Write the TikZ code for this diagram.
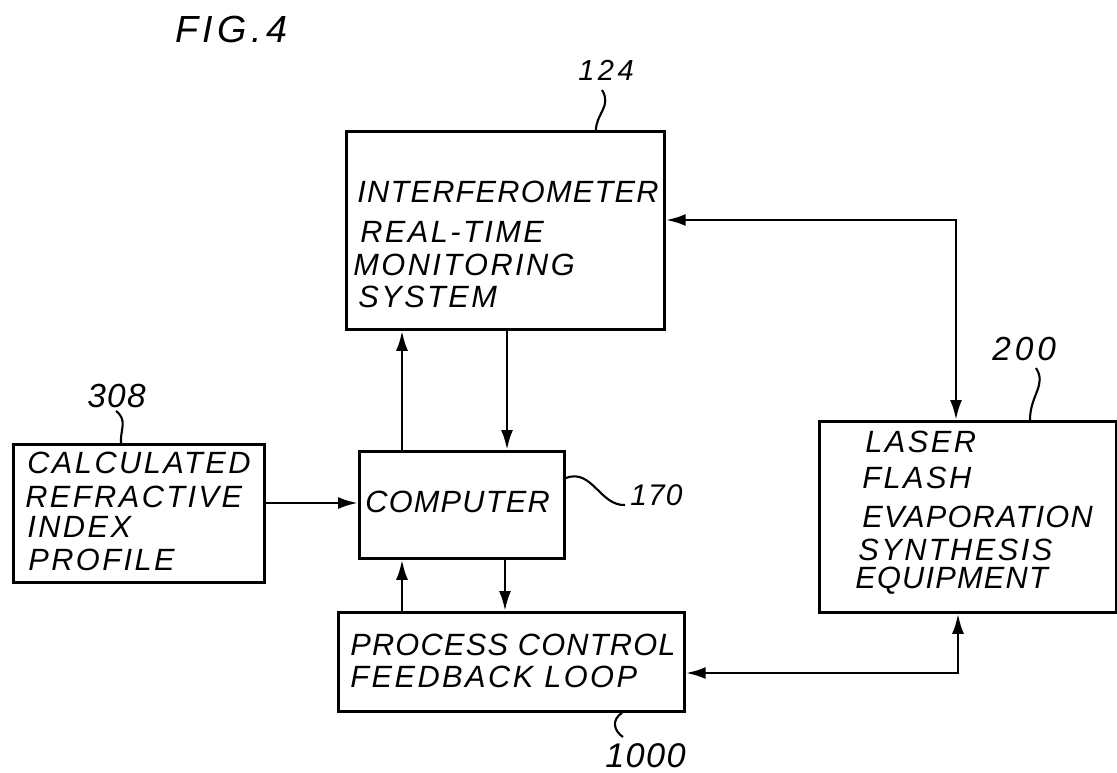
\documentclass[tikz,border=0pt]{standalone}
\usepackage{fontspec}
\setmainfont{Liberation Sans}
\newfontfamily\hand{Liberation Sans}[LetterSpace=4]
\newfontfamily\wide{Liberation Sans}[LetterSpace=8]
\newfontfamily\numf{Liberation Sans}[LetterSpace=12]
\usetikzlibrary{arrows.meta}
\begin{document}
\begin{tikzpicture}[x=0.02cm,y=-0.02cm,
  box/.style={draw,line width=1.6pt,inner sep=0pt,anchor=north west},
  txt/.style={anchor=base west,inner sep=0pt,font=\hand\itshape\fontsize{17.5}{20}\selectfont},
  wtxt/.style={anchor=base west,inner sep=0pt,font=\wide\itshape\fontsize{17.5}{20}\selectfont},
  num/.style={anchor=base west,inner sep=0pt},
  arr/.style={line width=1.6pt,-{Latex[length=4mm,width=2.4mm]}},
  both/.style={line width=1.6pt,{Latex[length=4mm,width=2.4mm]}-{Latex[length=4mm,width=2.4mm]}},
  lead/.style={line width=1.2pt}]
\useasboundingbox (0,0) rectangle (1117,772);
% boxes
\node[box,minimum width=6.36cm,minimum height=3.96cm] (interf) at (345,130) {};
\node[box,minimum width=5.02cm,minimum height=2.76cm] (calc) at (12,443) {};
\node[box,minimum width=4.10cm,minimum height=2.14cm] (comp) at (358,450) {};
\node[box,minimum width=6.92cm,minimum height=1.98cm] (proc) at (337,611) {};
\node[box,minimum width=5.94cm,minimum height=3.82cm] (laser) at (818,420) {};
% texts
\node[txt] (i1) at (357,202) {INTERFEROMETER};
\node[wtxt] (i2) at (360,242) {REAL-TIME};
\node[wtxt] (i3) at (353,275) {MONITORING};
\node[wtxt] (i4) at (358,307) {SYSTEM};
\node[wtxt] (c1) at (27,473) {CALCULATED};
\node[wtxt] (c2) at (25,507) {REFRACTIVE};
\node[wtxt] (c3) at (27,537) {INDEX};
\node[wtxt] (c4) at (28,570) {PROFILE};
\node[txt] (m1) at (365,512) {COMPUTER};
\node[txt] (p1) at (350,655) {PROCESS CONTROL};
\node[wtxt] (p2) at (350,687) {FEEDBACK LOOP};
\node[wtxt] (l1) at (865,452) {LASER};
\node[wtxt] (l2) at (862,488) {FLASH};
\node[txt] (l3) at (862,527) {EVAPORATION};
\node[wtxt] (l4) at (858,560) {SYNTHESIS};
\node[txt] (l5) at (855,588) {EQUIPMENT};
% labels
\node[num,font=\numf\itshape\fontsize{21.5}{24}\selectfont] (fig) at (175,42) {FIG.4};
\node[num,font=\numf\itshape\fontsize{16.5}{18}\selectfont] (n124) at (578,80) {124};
\node[num,font=\numf\itshape\fontsize{19}{22}\selectfont] (n200) at (992,360) {200};
\node[num,font=\hand\itshape\fontsize{19}{22}\selectfont] (n308) at (87,407) {308};
\node[num,font=\hand\itshape\fontsize{17}{20}\selectfont] (n170) at (630,505) {170};
\node[num,font=\hand\itshape\fontsize{19.5}{22}\selectfont] (n1000) at (605,767) {1000};
% leaders
\coordinate (a124) at (602,90);
\coordinate (a200) at (1036,368);
\coordinate (a308) at (116,411);
\coordinate (a170) at (625,505);
\coordinate (a1000) at (623,737);
\draw[lead] (a124) .. controls (612,106) and (596,114) .. (interf.north -| 596,0);
\draw[lead] (a200) .. controls (1047,385) and (1030,395) .. (laser.north -| 1030,0);
\draw[lead] (a308) .. controls (128,420) and (120,430) .. (calc.north -| 121,0);
\draw[lead] (comp.east |- 0,478) .. controls (592,468) and (600,506) .. (a170);
\draw[lead] (proc.south -| 622,0) .. controls (611,720) and (614,731) .. (a1000);
% connectors
\draw[arr] (calc.east |- 0,503) -- (comp.west |- 0,503);
\draw[arr] (comp.north -| 402,0) -- (interf.south -| 402,0);
\draw[arr] (interf.south -| 507,0) -- (comp.north -| 507,0);
\draw[arr] (proc.north -| 402,0) -- (comp.south -| 402,0);
\draw[arr] (comp.south -| 505,0) -- (proc.north -| 505,0);
\draw[both] (interf.east |- 0,220) -| (laser.north -| 956,0);
\draw[both] (laser.south -| 958,0) |- (proc.east |- 0,673);
\end{tikzpicture}
\end{document}
